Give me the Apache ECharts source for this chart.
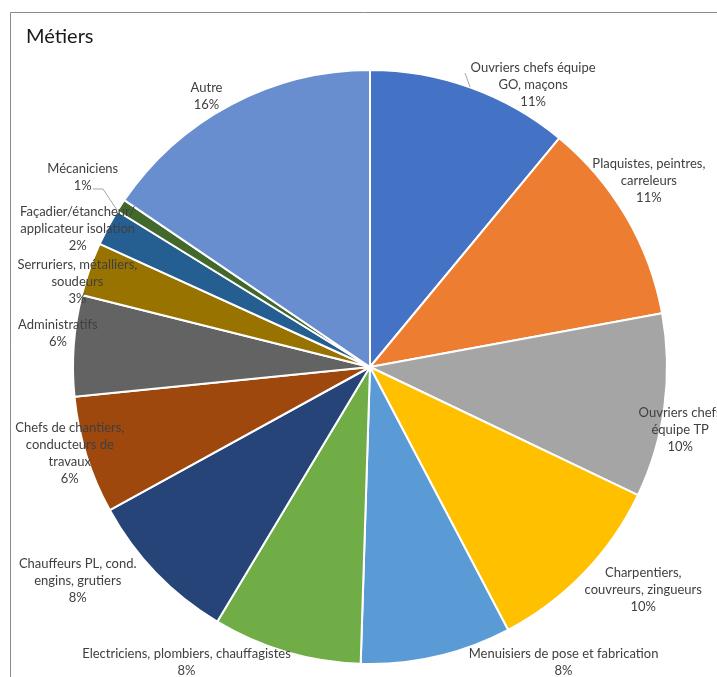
<!DOCTYPE html>
<html><head><meta charset="utf-8">
<script src="https://cdn.jsdelivr.net/npm/echarts@6/dist/echarts.min.js"></script>
<style>html,body{margin:0;padding:0;background:#fff}#c{width:717px;height:677px}</style>
</head><body><div id="c"></div>
<script>
// Categories (with line breaks as shown in the chart labels)
var categories = [
  "Ouvriers chefs équipe\nGO, maçons",
  "Plaquistes, peintres,\ncarreleurs",
  "Ouvriers chefs\néquipe TP",
  "Charpentiers,\ncouvreurs, zingueurs",
  "Menuisiers de pose et fabrication",
  "Electriciens, plombiers, chauffagistes",
  "Chauffeurs PL, cond.\nengins, grutiers",
  "Chefs de chantiers,\nconducteurs de\ntravaux",
  "Administratifs",
  "Serruriers, métalliers,\nsoudeurs",
  "Façadier/étancheur/\napplicateur isolation",
  "Mécaniciens",
  "Autre"
];
// Share of each trade (percent)
var values = [11.0, 11.1, 10.0, 10.2, 8.2, 8.1, 8.4, 6.4, 5.5, 2.9, 2.0, 0.7, 15.5];
var colors = ["#4472C4","#ED7D31","#A5A5A5","#FFC000","#5B9BD5","#70AD47","#264478","#9E480E","#636363","#997300","#255E91","#43682B","#698ED0"];
// Label nudges (pixels) relative to the default label ring position
var labelDx = [52, -4, -15, 37, 120, -91, -56, 13, 15, 17, -3, -12, -10];
var labelDy = [26, -20, 20, -5, -24, -19, -14, -11, -10, 23, 16, -11, 19];

var data = categories.map(function(c, i){ return {name: c, value: values[i], itemStyle:{color: colors[i]}}; });
var ringData = categories.map(function(c, i){ return {name: c, value: values[i]}; });

var chart = echarts.init(document.getElementById('c'));
chart.setOption({
  animation: false,
  backgroundColor: '#fff',
  title: {text: 'Métiers', left: 21, top: 22, textStyle:{fontFamily:'Lato', fontSize: 20, fontWeight:'normal', color:'#1a1a1a'}},
  graphic: [
    {type:'rect', shape:{x:10.5, y:12.5, width:760, height:720}, style:{fill:'none', stroke:'#8a8a8a', lineWidth:1}, silent:true},
    {type:'polyline', shape:{points:[[465,73],[470,87]]}, style:{stroke:'#a6a6a6', lineWidth:1, fill:'none'}, silent:true, z:10},
    {type:'polyline', shape:{points:[[93,189],[103,189],[117,210]]}, style:{stroke:'#a6a6a6', lineWidth:1, fill:'none'}, silent:true, z:10}
  ],
  series: [
    {
      type: 'pie', center: [370, 367], radius: 297, startAngle: 90, clockwise: true,
      avoidLabelOverlap: false, label:{show:false}, labelLine:{show:false},
      itemStyle:{borderColor:'#fff', borderWidth:2},
      data: data, z: 2
    },
    {
      type: 'pie', center: [370, 367], radius: [310, 340], startAngle: 90, clockwise: true,
      avoidLabelOverlap: false, silent: true, z: 3,
      itemStyle:{color:'rgba(0,0,0,0)', borderWidth:0},
      label:{show:true, position:'inside', color:'#404040', fontFamily:'Lato', fontSize:13, lineHeight:17,
        formatter: function(p){ return p.name + '\n' + Math.round(p.percent) + '%'; }},
      labelLine:{show:false},
      labelLayout: function(p){ return {dx: labelDx[p.dataIndex], dy: labelDy[p.dataIndex]}; },
      data: ringData
    }
  ]
});
</script></body></html>
